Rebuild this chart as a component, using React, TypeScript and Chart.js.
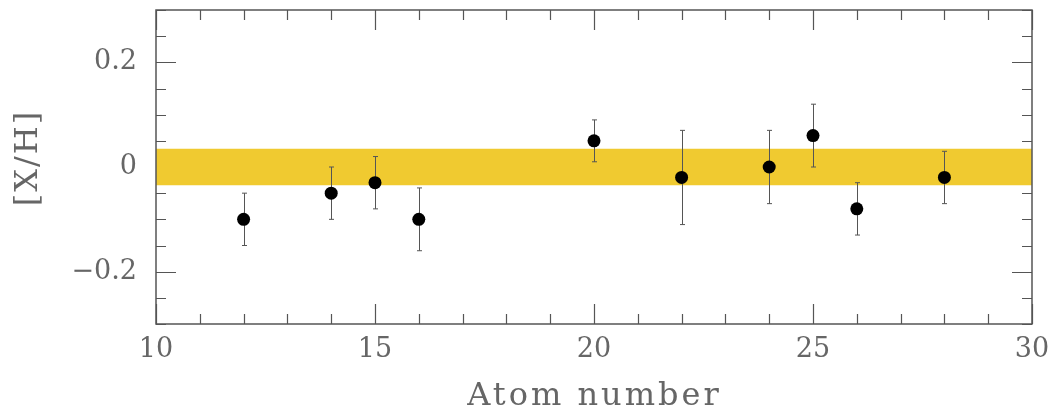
import { useEffect, useRef } from 'react';
import { Chart, registerables } from 'chart.js';

Chart.register(...registerables);

// ---- data ----
const atomNumbers = [12, 14, 15, 16, 20, 22, 24, 25, 26, 28];
const abundances = [-0.1, -0.05, -0.03, -0.1, 0.05, -0.02, 0.0, 0.06, -0.08, -0.02];
const abundanceErrors = [0.05, 0.05, 0.05, 0.06, 0.04, 0.09, 0.07, 0.06, 0.05, 0.05];
const bandLow = -0.035;
const bandHigh = 0.035;
const xRange = [10, 30];
const yRange = [-0.3, 0.3];
const xTickLabels = [10, 15, 20, 25, 30];
const yTickLabels = [-0.2, 0, 0.2];
const xMinorStep = 1;
const yMinorStep = 0.05;
const xTitle = 'Atom number';
const yTitle = '[X/H]';

const TEXT_COLOR = '#666';
const FRAME_COLOR = '#555';
const FONT_FAMILY = "'DejaVu Serif', serif";

const isMajor = (v: number, majors: number[]) => majors.some((m) => Math.abs(m - v) < 1e-6);

const framePlugin = {
  id: 'framePlugin',
  beforeDatasetsDraw(chart: any) {
    const { ctx, chartArea: a, scales } = chart;
    const x = scales.x;
    const y = scales.y;
    ctx.save();
    ctx.strokeStyle = FRAME_COLOR;
    ctx.lineWidth = 1.2;
    ctx.beginPath();
    const nx = Math.round((xRange[1] - xRange[0]) / xMinorStep);
    for (let i = 0; i <= nx; i++) {
      const v = xRange[0] + i * xMinorStep;
      const px = Math.round(x.getPixelForValue(v)) + 0.5;
      const len = isMajor(v, xTickLabels) ? 20 : 10;
      ctx.moveTo(px, a.bottom);
      ctx.lineTo(px, a.bottom - len);
      ctx.moveTo(px, a.top);
      ctx.lineTo(px, a.top + len);
    }
    const ny = Math.round((yRange[1] - yRange[0]) / yMinorStep);
    for (let i = 0; i <= ny; i++) {
      const v = yRange[0] + i * yMinorStep;
      const py = Math.round(y.getPixelForValue(v)) + 0.5;
      const len = isMajor(v, yTickLabels) ? 20 : 10;
      ctx.moveTo(a.left, py);
      ctx.lineTo(a.left + len, py);
      ctx.moveTo(a.right, py);
      ctx.lineTo(a.right - len, py);
    }
    ctx.stroke();
    ctx.restore();
  },
  beforeDatasetDraw(chart: any, args: any) {
    if (args.index !== 0) return;
    const { ctx, scales } = chart;
    const x = scales.x;
    const y = scales.y;
    ctx.save();
    ctx.strokeStyle = '#555';
    ctx.lineWidth = 1;
    ctx.beginPath();
    atomNumbers.forEach((xv, i) => {
      const px = Math.round(x.getPixelForValue(xv)) + 0.5;
      const top = y.getPixelForValue(abundances[i] + abundanceErrors[i]);
      const bot = y.getPixelForValue(abundances[i] - abundanceErrors[i]);
      ctx.moveTo(px, top);
      ctx.lineTo(px, bot);
      ctx.moveTo(px - 2.5, top);
      ctx.lineTo(px + 2.5, top);
      ctx.moveTo(px - 2.5, bot);
      ctx.lineTo(px + 2.5, bot);
    });
    ctx.stroke();
    ctx.restore();
  },
  afterDraw(chart: any) {
    const { ctx, chartArea: a } = chart;
    ctx.save();
    // frame
    ctx.strokeStyle = FRAME_COLOR;
    ctx.lineWidth = 1.5;
    ctx.strokeRect(a.left, a.top, a.right - a.left, a.bottom - a.top);
    // titles
    ctx.fillStyle = TEXT_COLOR;
    ctx.font = `32px ${FONT_FAMILY}`;
    const spacing = 3;
    (ctx as any).letterSpacing = `${spacing}px`;
    ctx.textAlign = 'left';
    ctx.textBaseline = 'alphabetic';
    const wx = ctx.measureText(xTitle).width - spacing;
    const cx = (a.left + a.right) / 2 - 1;
    ctx.fillText(xTitle, cx - wx / 2, 405);
    ctx.translate(29, 159);
    ctx.rotate(-Math.PI / 2);
    ctx.textBaseline = 'middle';
    (ctx as any).letterSpacing = '2px';
    const wy = ctx.measureText(yTitle).width - 2;
    ctx.fillText(yTitle, -wy / 2, 0);
    ctx.restore();
  },
};

export default function App() {
  const canvasRef = useRef<HTMLCanvasElement | null>(null);

  useEffect(() => {
    document.body.style.margin = '0';
    const canvas = canvasRef.current;
    if (!canvas) return;
    const points = atomNumbers.map((xv, i) => ({ x: xv, y: abundances[i] }));
    const chart = new Chart(canvas, {
      type: 'scatter',
      data: {
        datasets: [
          {
            type: 'scatter',
            label: 'Abundances',
            data: points,
            pointRadius: 6.5,
            pointBackgroundColor: '#000',
            pointBorderWidth: 0,
            pointBorderColor: '#000',
          } as any,
          {
            type: 'line',
            label: 'band high',
            data: [
              { x: xRange[0], y: bandHigh },
              { x: xRange[1], y: bandHigh },
            ],
            pointRadius: 0,
            borderColor: 'rgba(0,0,0,0)',
            borderWidth: 0,
            fill: false,
          } as any,
          {
            type: 'line',
            label: 'band low',
            data: [
              { x: xRange[0], y: bandLow },
              { x: xRange[1], y: bandLow },
            ],
            pointRadius: 0,
            borderColor: 'rgba(0,0,0,0)',
            borderWidth: 0,
            fill: '-1',
            backgroundColor: '#F0CA30',
          } as any,
        ],
      },
      options: {
        responsive: false,
        animation: false,
        devicePixelRatio: 1,
        layout: { padding: { top: 10, right: 22, left: 0, bottom: 0 } },
        plugins: {
          legend: { display: false },
          tooltip: { enabled: false },
        },
        scales: {
          x: {
            type: 'linear',
            min: xRange[0],
            max: xRange[1],
            grid: { display: false, drawTicks: false },
            border: { display: false },
            afterBuildTicks: (scale: any) => {
              scale.ticks = xTickLabels.map((v) => ({ value: v }));
            },
            afterFit: (scale: any) => {
              scale.height = 86;
              scale.paddingLeft = 0;
              scale.paddingRight = 0;
            },
            ticks: {
              padding: 10,
              color: TEXT_COLOR,
              font: { family: FONT_FAMILY, size: 27 },
              maxRotation: 0,
              autoSkip: false,
              callback: (v: any) => String(v),
            },
          },
          y: {
            type: 'linear',
            min: yRange[0],
            max: yRange[1],
            grid: { display: false, drawTicks: false },
            border: { display: false },
            afterBuildTicks: (scale: any) => {
              scale.ticks = yTickLabels.map((v) => ({ value: v }));
            },
            afterFit: (scale: any) => {
              scale.width = 156;
              scale.paddingTop = 0;
              scale.paddingBottom = 0;
            },
            ticks: {
              padding: 19,
              color: TEXT_COLOR,
              font: { family: FONT_FAMILY, size: 27 },
              autoSkip: false,
              callback: (v: any) => {
                const n = Number(v);
                if (Math.abs(n) < 1e-9) return '0';
                return (n < 0 ? '\u2212' : '') + Math.abs(n).toFixed(1);
              },
            },
          },
        },
      },
      plugins: [framePlugin],
    } as any);
    return () => chart.destroy();
  }, []);

  return (
    <div style={{ position: 'fixed', left: 0, top: 0, width: 1054, height: 410 }}>
      <canvas ref={canvasRef} width={1054} height={410} style={{ display: 'block' }} />
    </div>
  );
}
